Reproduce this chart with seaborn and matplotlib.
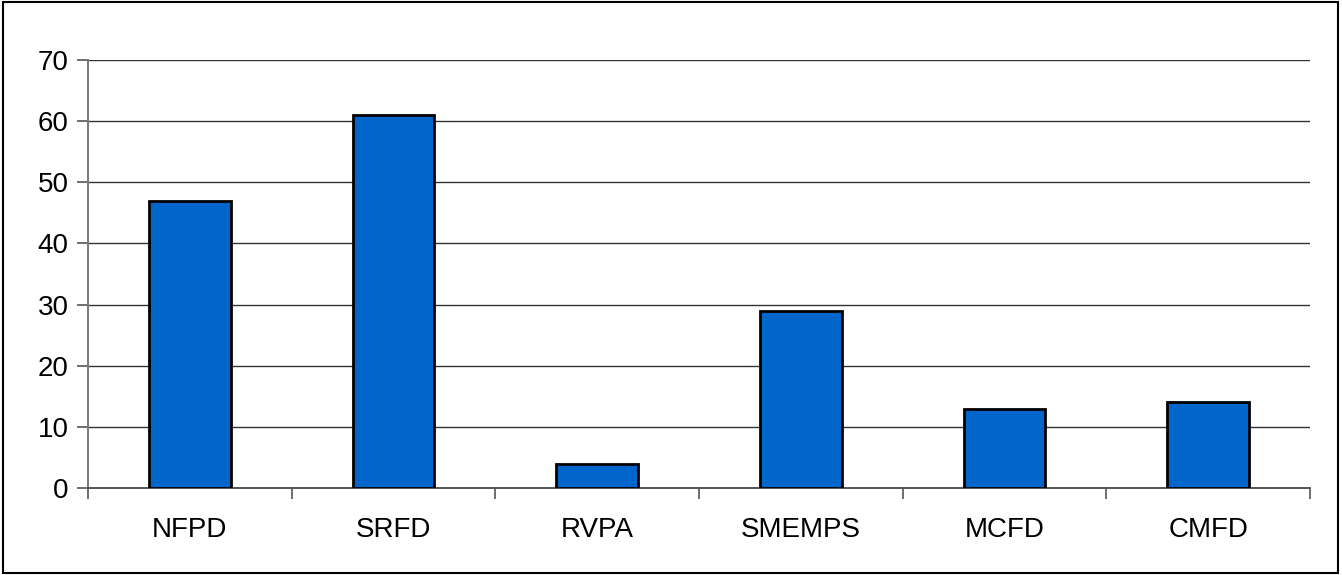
import matplotlib
matplotlib.use("Agg")
import matplotlib.pyplot as plt
import seaborn as sns
import pandas as pd
import numpy as np

categories = ["NFPD", "SRFD", "RVPA", "SMEMPS", "MCFD", "CMFD"]
values = [47, 61, 4, 29, 13, 14]
y_ticks = [0, 10, 20, 30, 40, 50, 60, 70]

df = pd.DataFrame({"cat": categories, "val": values})

sns.set_style("white")
plt.rcParams['font.family'] = ['Liberation Sans', 'DejaVu Sans']

fig = plt.figure(figsize=(13.42, 5.75), dpi=100)
ax = fig.add_axes([0.0656, 0.1513, 0.9106, 0.7444])

sns.barplot(data=df, x="cat", y="val", color="#0066CC", saturation=1,
            width=0.4, edgecolor="black", linewidth=2, ax=ax, zorder=3)

ax.set_ylim(0, 70)
ax.set_xlim(-0.5, len(categories) - 0.5)
ax.set_yticks(y_ticks)
ax.set_yticklabels([str(t) for t in y_ticks], fontsize=20, color="black")
ax.set_xticks(range(len(categories)))
ax.set_xticklabels(categories, fontsize=20, color="black")
ax.tick_params(axis="x", length=0, pad=21)
ax.tick_params(axis="y", length=8, color="#555555", width=1.2, pad=6, left=True)

# tick marks between categories
ax.set_xticks(np.arange(-0.5, len(categories)), minor=True)
ax.tick_params(axis="x", which="minor", length=8, color="#555555", width=1.2, bottom=True)

for t in y_ticks[1:]:
    ax.axhline(t, color="#333333", linewidth=1.0, zorder=1)

ax.set_xlabel("")
ax.set_ylabel("")
for s in ["top", "right"]:
    ax.spines[s].set_visible(False)
ax.spines["left"].set_color("#777777")
ax.spines["left"].set_linewidth(1.4)
ax.spines["bottom"].set_color("#555555")
ax.spines["bottom"].set_linewidth(1.4)

fig.patches.append(plt.Rectangle((0.002, 0.003), 0.995, 0.994, transform=fig.transFigure,
                                 fill=False, edgecolor="black", linewidth=1.5))

fig.savefig("out.png", dpi=100)
